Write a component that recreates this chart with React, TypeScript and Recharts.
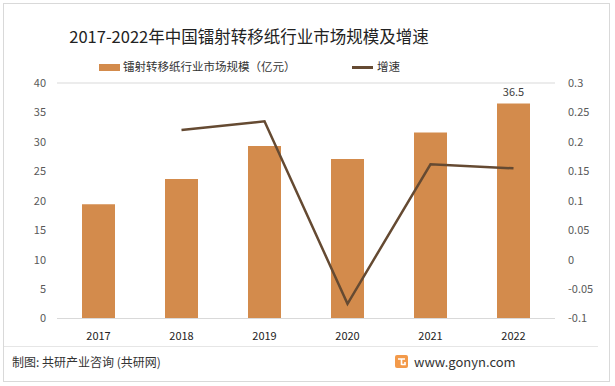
import { ComposedChart, Bar, Line, XAxis, YAxis, CartesianGrid, LabelList } from "recharts";

const years = ["2017", "2018", "2019", "2020", "2021", "2022"];
const marketSize = [19.4, 23.7, 29.3, 27.1, 31.6, 36.5]; // 亿元
const growth = [null, 0.22, 0.235, -0.075, 0.162, 0.155];

const leftTicks = [0, 5, 10, 15, 20, 25, 30, 35, 40];
const rightTicks = [-0.1, -0.05, 0, 0.05, 0.1, 0.15, 0.2, 0.25, 0.3];

const BAR_COLOR = "#D38B4C";
const LINE_COLOR = "#654A32";
const FONT = "'Noto Sans CJK SC', 'Noto Sans', sans-serif";

const data = years.map((y, i) => ({ year: y, size: marketSize[i], rate: growth[i] }));

export default function App() {
    return (
        <div style={{ position: "absolute", left: 0, top: 0, width: 615, height: 386, background: "#fff", fontFamily: FONT }}>
            <div style={{ position: "absolute", left: 3, top: 3, width: 605, height: 377, border: "1px solid #d9d9d9" }} />
            <div style={{ position: "absolute", left: 0, top: 24, width: 498, textAlign: "center", fontSize: 16.5, color: "#222", whiteSpace: "nowrap" }}>
                2017-2022年中国镭射转移纸行业市场规模及增速
            </div>
            {/* legend */}
            <div style={{ position: "absolute", left: 0, top: 57, width: 615, height: 20, fontSize: 11.5, color: "#333" }}>
                <div style={{ position: "absolute", left: 99, top: 7, width: 21, height: 7, background: BAR_COLOR }} />
                <span style={{ position: "absolute", left: 123, top: 1, whiteSpace: "nowrap" }}>镭射转移纸行业市场规模（亿元）</span>
                <div style={{ position: "absolute", left: 352, top: 9, width: 21, height: 3, background: LINE_COLOR }} />
                <span style={{ position: "absolute", left: 377, top: 1 }}>增速</span>
            </div>
            <div style={{ position: "absolute", left: 0, top: 0 }}>
                <ComposedChart width={615} height={386} data={data} margin={{ top: 83, right: 0, bottom: 37.5, left: 0 }}>
                    <CartesianGrid vertical={false} stroke="#d9d9d9" />
                    <XAxis
                        dataKey="year"
                        axisLine={{ stroke: "#d9d9d9" }}
                        tickLine={false}
                        tickMargin={8}
                        height={30}
                        tick={{ fontSize: 11, fill: "#222", fontFamily: FONT }}
                    />
                    <YAxis
                        yAxisId="left"
                        width={57}
                        domain={[0, 40]}
                        ticks={leftTicks}
                        axisLine={false}
                        tickLine={false}
                        tickMargin={5}
                        tick={{ fontSize: 11, fill: "#595959", fontFamily: FONT }}
                    />
                    <YAxis
                        yAxisId="right"
                        orientation="right"
                        width={60}
                        domain={[-0.1, 0.3]}
                        ticks={rightTicks}
                        axisLine={false}
                        tickLine={false}
                        tickMargin={7}
                        tick={{ fontSize: 11, fill: "#595959", fontFamily: FONT }}
                    />
                    <Bar yAxisId="left" dataKey="size" fill={BAR_COLOR} barSize={33} isAnimationActive={false}>
                        <LabelList
                            dataKey="size"
                            content={(p: any) =>
                                p.index === years.length - 1 ? (
                                    <text x={p.x + p.width / 2} y={p.y - 8} textAnchor="middle" fontSize={11} fill="#404040" fontFamily={FONT}>
                                        {p.value}
                                    </text>
                                ) : null
                            }
                        />
                    </Bar>
                    <Line
                        yAxisId="right"
                        dataKey="rate"
                        stroke={LINE_COLOR}
                        strokeWidth={2.5}
                        dot={false}
                        type="linear"
                        isAnimationActive={false}
                    />
                </ComposedChart>
            </div>
            <div style={{ position: "absolute", left: 4, top: 346, width: 594, height: 1, background: "#e6e6e6" }} />
            <div style={{ position: "absolute", left: 12, top: 353, fontSize: 12, color: "#333", whiteSpace: "nowrap" }}>
                制图: 共研产业咨询 (共研网)
            </div>
            <svg style={{ position: "absolute", left: 395, top: 355 }} width={13} height={13}>
                <rect x={0} y={0} width={13} height={13} rx={2} fill="#F39A4A" />
                <path d="M3 4 H10 M6.5 4 V10 M6.5 9.5 H10 V7" stroke="#fff" strokeWidth={1.6} fill="none" />
            </svg>
            <div style={{ position: "absolute", left: 414, top: 352, fontSize: 13, color: "#333", whiteSpace: "nowrap" }}>
                www.gonyn.com
            </div>
        </div>
    );
}
